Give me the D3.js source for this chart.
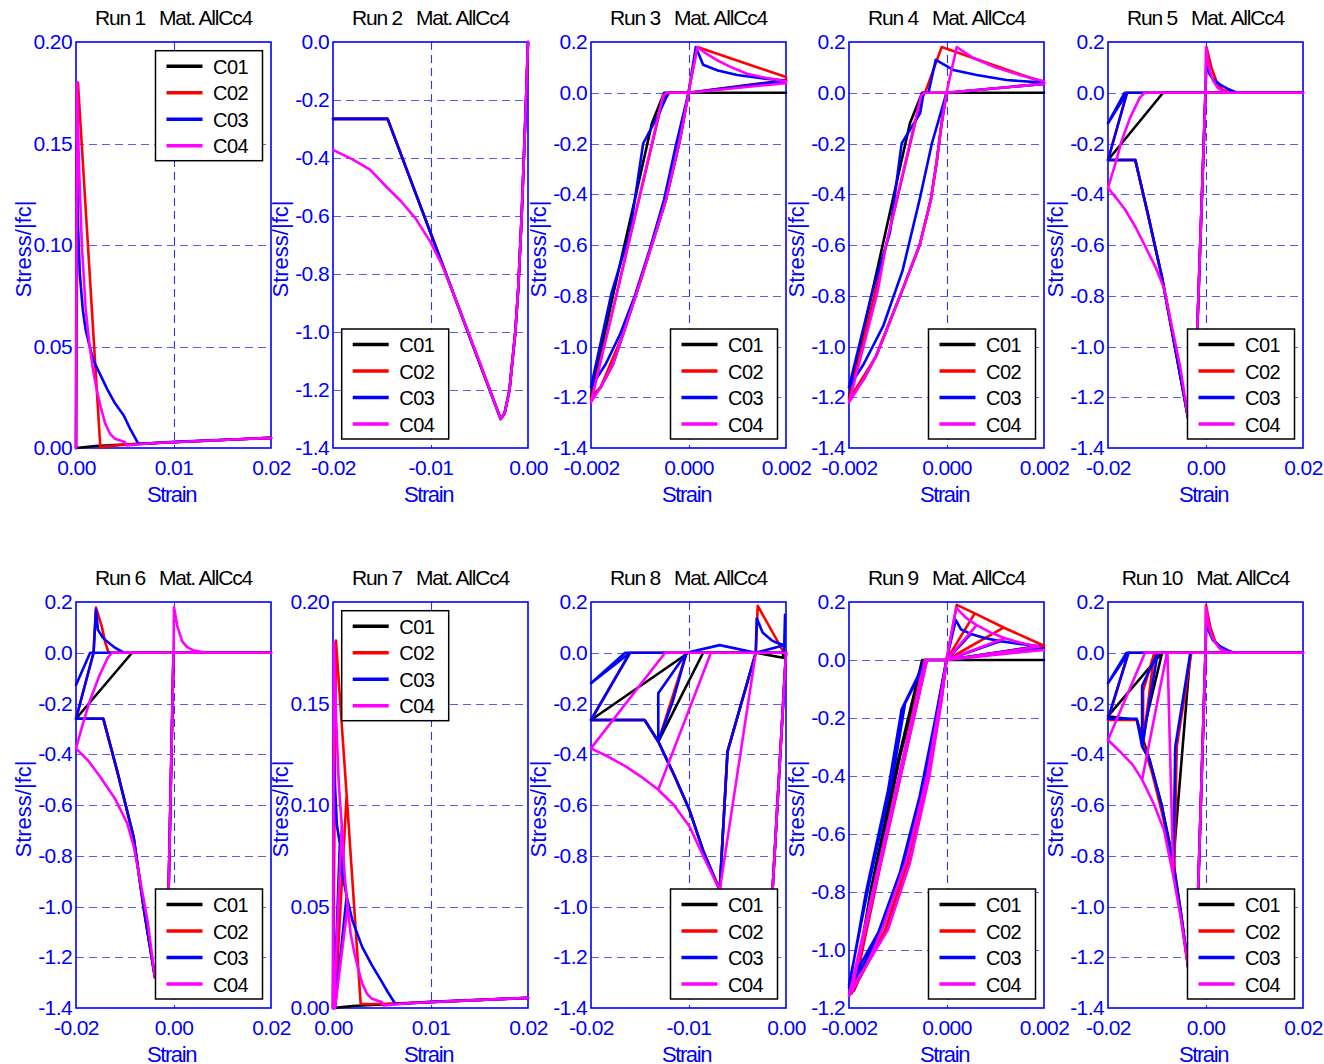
<!DOCTYPE html>
<html><head><meta charset="utf-8">
<script src="https://cdn.jsdelivr.net/npm/d3@7"></script>
<style>
body{margin:0;background:#fff;}
svg{display:block;}
text{font-family:"Liberation Sans",Arial,Helvetica,sans-serif;}
</style>
</head><body>
<svg id="chart" width="1324" height="1064"></svg>
<script>
// ---------------- configuration ----------------
const seriesNames = ["C01","C02","C03","C04"];
const seriesColors = ["#000000","#ff0000","#0000ff","#ff00ff"];
const runTitles = ["Run 1   Mat. AllCc4","Run 2   Mat. AllCc4","Run 3   Mat. AllCc4","Run 4   Mat. AllCc4","Run 5   Mat. AllCc4",
                   "Run 6   Mat. AllCc4","Run 7   Mat. AllCc4","Run 8   Mat. AllCc4","Run 9   Mat. AllCc4","Run 10   Mat. AllCc4"];
const xDomains = [[0,0.02],[-0.02,0],[-0.002,0.002],[-0.002,0.002],[-0.02,0.02],[-0.02,0.02],[0,0.02],[-0.02,0],[-0.002,0.002],[-0.02,0.02]];
const yDomains = [[0,0.2],[-1.4,0],[-1.4,0.2],[-1.4,0.2],[-1.4,0.2],[-1.4,0.2],[0,0.2],[-1.4,0.2],[-1.2,0.2],[-1.4,0.2]];
const xTicksPos = [0,0.01,0.02];
const xTicksNeg = [-0.02,-0.01,0];
const xTicksSmall = [-0.002,0,0.002];
const xTicksWide = [-0.02,0,0.02];
const yTicksSmall = [0,0.05,0.1,0.15,0.2];
const yTicksNeg = [-1.4,-1.2,-1.0,-0.8,-0.6,-0.4,-0.2,0];
const yTicksMix = [-1.4,-1.2,-1.0,-0.8,-0.6,-0.4,-0.2,0,0.2];
const yTicksMix9 = [-1.2,-1.0,-0.8,-0.6,-0.4,-0.2,0,0.2];
const xTickSets = [xTicksPos,xTicksNeg,xTicksSmall,xTicksSmall,xTicksWide,xTicksWide,xTicksPos,xTicksNeg,xTicksSmall,xTicksWide];
const yTickSets = [yTicksSmall,yTicksNeg,yTicksMix,yTicksMix,yTicksMix,yTicksMix,yTicksSmall,yTicksMix,yTicksMix9,yTicksMix];
const xFormats = [".2f",".2f",".3f",".3f",".2f",".2f",".2f",".2f",".3f",".2f"];
const yFormats = [".2f",".1f",".1f",".1f",".1f",".1f",".2f",".1f",".1f",".1f"];
const legendCorners = ["tr","bl","br","br","br","br","tl","br","br","br"];
const xLabel = "Strain";
const yLabel = "Stress/|fc|";

// ---------------- data (strain, stress/|fc|) ----------------
// Run 1
const r1c01 = [[0,0],[0.002,0.001],[0.006,0.002],[0.02,0.005]];
const r1c02 = [[0,0],[0.0002,0.18],[0.0025,0.0],[0.003,0.0008],[0.006,0.002],[0.02,0.005]];
const r1c03 = [[0,0],[0.00005,0.15],[0.0002,0.11],[0.0004,0.085],[0.0007,0.068],[0.001,0.058],[0.0014,0.05],[0.0018,0.043],[0.0025,0.036],[0.0032,0.029],[0.004,0.022],[0.0049,0.016],[0.0056,0.009],[0.0064,0.002],[0.01,0.003],[0.02,0.005]];
const r1c04 = [[0,0],[0.0001,0.18],[0.0003,0.14],[0.0006,0.10],[0.001,0.068],[0.0014,0.05],[0.0018,0.037],[0.0022,0.027],[0.0026,0.019],[0.003,0.012],[0.0035,0.007],[0.004,0.0045],[0.005,0.003],[0.0052,0.0012],[0.008,0.0025],[0.02,0.005]];
// Run 2
const r2c01 = [[0,0],[-0.0002,-0.2],[-0.00065,-0.6],[-0.001,-0.85],[-0.0013,-1.0],[-0.0019,-1.2],[-0.0024,-1.28],[-0.0028,-1.3],[-0.0144,-0.265],[-0.02,-0.265]];
const r2c02 = [[0,0],[-0.0002,-0.2],[-0.00065,-0.6],[-0.001,-0.85],[-0.0013,-1.0],[-0.0019,-1.2],[-0.0024,-1.28],[-0.0028,-1.3],[-0.0144,-0.265],[-0.02,-0.265]];
const r2c03 = [[0,0],[-0.0002,-0.2],[-0.00065,-0.6],[-0.001,-0.85],[-0.0013,-1.0],[-0.0019,-1.2],[-0.0024,-1.28],[-0.0028,-1.3],[-0.0144,-0.265],[-0.02,-0.265]];
const r2c04 = [[0,0],[-0.0002,-0.2],[-0.00065,-0.6],[-0.001,-0.85],[-0.0013,-1.0],[-0.0019,-1.2],[-0.0024,-1.28],[-0.0028,-1.3],[-0.005,-1.1],[-0.0075,-0.88],[-0.0088,-0.77],[-0.010,-0.69],[-0.0115,-0.61],[-0.013,-0.55],[-0.0145,-0.50],[-0.0162,-0.44],[-0.018,-0.405],[-0.02,-0.372]];
// Run 3
const r3c01 = [[0.002,0],[0,0],[-0.00018,-0.19],[-0.00046,-0.42],[-0.00067,-0.55],[-0.001,-0.75],[-0.00134,-0.95],[-0.00155,-1.07],[-0.0018,-1.16],[-0.002,-1.2],[-0.00154,-0.79],[-0.0011,-0.42],[-0.00075,-0.12],[-0.0005,0],[0,0],[0.002,0]];
const r3c02 = [[0,0],[0.00018,0.18],[0.002,0.062],[0.002,0.05],[0,0],[-0.00018,-0.19],[-0.00046,-0.42],[-0.001,-0.75],[-0.00134,-0.95],[-0.0018,-1.16],[-0.002,-1.21],[-0.00147,-0.79],[-0.00052,-0.02],[-0.0004,0],[0,0],[0.002,0.05]];
const r3c03 = [[0,0],[0.00015,0.18],[0.0003,0.11],[0.0006,0.088],[0.001,0.07],[0.0015,0.057],[0.002,0.048],[0,0],[-0.00025,-0.2],[-0.0005,-0.42],[-0.0008,-0.62],[-0.0011,-0.8],[-0.0014,-0.95],[-0.0017,-1.07],[-0.002,-1.16],[-0.00158,-0.79],[-0.0012,-0.55],[-0.00093,-0.2],[-0.0006,-0.08],[-0.00046,-0.02],[-0.0004,0],[0,0],[0.002,0.042]];
const r3c04 = [[0.002,0.038],[0,0],[-0.00018,-0.19],[-0.00046,-0.42],[-0.00067,-0.55],[-0.001,-0.75],[-0.00134,-0.95],[-0.00155,-1.07],[-0.0018,-1.16],[-0.002,-1.22],[-0.00147,-0.79],[-0.00124,-0.6],[-0.00085,-0.28],[-0.00052,-0.01],[-0.00045,0],[0,0],[0.00018,0.18],[0.0004,0.15],[0.0006,0.127],[0.00085,0.103],[0.0012,0.075],[0.0016,0.058],[0.002,0.045]];
// Run 4
const r4c01 = [[0.002,0],[0,0],[-0.0001,-0.12],[-0.0002,-0.27],[-0.00032,-0.42],[-0.00055,-0.6],[-0.00089,-0.77],[-0.0012,-0.92],[-0.00145,-1.04],[-0.0017,-1.13],[-0.002,-1.2],[-0.00153,-0.79],[-0.0011,-0.42],[-0.00075,-0.12],[-0.0005,0],[0,0],[0.002,0]];
const r4c02 = [[-0.00044,0],[-0.0001,0.18],[0.002,0.04],[0.002,0.035],[0,0],[-0.0001,-0.12],[-0.0002,-0.27],[-0.00032,-0.42],[-0.00055,-0.6],[-0.00089,-0.77],[-0.0012,-0.92],[-0.00145,-1.04],[-0.002,-1.21],[-0.00147,-0.79],[-0.00052,-0.02],[-0.00044,0]];
const r4c03 = [[0.002,0.035],[0,0],[-0.0003,-0.2],[-0.00055,-0.42],[-0.0009,-0.7],[-0.0013,-0.92],[-0.0017,-1.07],[-0.002,-1.16],[-0.00153,-0.79],[-0.00116,-0.55],[-0.00092,-0.2],[-0.00054,-0.08],[-0.00047,0],[-0.00037,0],[-0.00022,0.13],[0.00014,0.09],[0.00062,0.07],[0.00123,0.05],[0.002,0.04]];
const r4c04 = [[0.002,0.035],[0,0],[-0.00045,0],[-0.00052,-0.01],[-0.00085,-0.28],[-0.00124,-0.6],[-0.00142,-0.79],[-0.002,-1.22],[-0.0017,-1.13],[-0.00145,-1.04],[-0.0012,-0.92],[-0.00089,-0.77],[-0.00055,-0.6],[-0.00032,-0.42],[-0.0002,-0.27],[-0.0001,-0.12],[0,0],[0.00021,0.18],[0.00055,0.137],[0.001,0.1],[0.0015,0.07],[0.002,0.045]];
// Run 5
const r5c01 = [[0,0],[-0.0017,-0.94],[-0.0026,-1.2],[-0.0034,-1.3],[-0.006,-1.03],[-0.0089,-0.73],[-0.0118,-0.48],[-0.0144,-0.265],[-0.02,-0.265],[-0.0087,0],[0.02,0]];
const r5c02 = [[0,0],[0.0002,0.18],[0.0012,0.1],[0.0024,0.037],[0.0035,0.012],[0.005,0.002],[0.0065,0],[0,0],[-0.0017,-0.94],[-0.0026,-1.2],[-0.0034,-1.3],[-0.006,-1.03],[-0.0089,-0.73],[-0.0118,-0.48],[-0.0144,-0.265],[-0.02,-0.265],[-0.0161,0],[0.02,0]];
const r5c03 = [[0,0],[0.0002,0.12],[0.0008,0.075],[0.0015,0.055],[0.003,0.032],[0.0045,0.016],[0.0062,0.002],[0.0065,0],[0,0],[-0.0017,-0.94],[-0.0026,-1.2],[-0.0034,-1.3],[-0.006,-1.03],[-0.0089,-0.73],[-0.0118,-0.48],[-0.0144,-0.265],[-0.02,-0.265],[-0.0161,0],[-0.02,-0.12],[-0.0166,0],[0.02,0]];
const r5c04 = [[0,0],[0.0001,0.18],[0.0005,0.12],[0.001,0.08],[0.0015,0.05],[0.0025,0.02],[0.0035,0.006],[0.005,0.001],[0.0065,0],[0,0],[-0.0017,-0.94],[-0.0026,-1.2],[-0.0034,-1.3],[-0.0052,-1.08],[-0.0069,-0.92],[-0.0085,-0.77],[-0.0103,-0.685],[-0.0125,-0.6],[-0.0144,-0.528],[-0.0165,-0.46],[-0.0183,-0.415],[-0.02,-0.375],[-0.0185,-0.28],[-0.0172,-0.19],[-0.0155,-0.1],[-0.0135,-0.02],[-0.0125,0],[0.02,0]];
// Run 6
const r6c01 = [[0,0],[-0.001,-0.935],[-0.0025,-1.2],[-0.0038,-1.28],[-0.006,-1.02],[-0.0082,-0.725],[-0.0115,-0.47],[-0.0144,-0.26],[-0.02,-0.26],[-0.0085,0],[0.02,0]];
const r6c02 = [[0,0],[-0.001,-0.935],[-0.0025,-1.2],[-0.0038,-1.28],[-0.006,-1.02],[-0.0082,-0.725],[-0.0115,-0.47],[-0.0144,-0.26],[-0.02,-0.26],[-0.0164,0],[-0.0159,0.178],[-0.0147,0.103],[-0.014,0.04],[-0.0133,0],[0.02,0]];
const r6c03 = [[0,0],[-0.001,-0.935],[-0.0025,-1.2],[-0.0038,-1.28],[-0.006,-1.02],[-0.0082,-0.725],[-0.0115,-0.47],[-0.0144,-0.26],[-0.02,-0.26],[-0.0164,0],[-0.0159,0.17],[-0.0155,0.09],[-0.0145,0.06],[-0.0137,0.045],[-0.012,0.02],[-0.0102,0],[-0.0171,0],[-0.02,-0.127],[-0.0171,0],[0.02,0]];
const r6c04 = [[0,0],[0.0001,0.18],[0.0008,0.103],[0.0018,0.045],[0.0028,0.022],[0.004,0.01],[0.0056,0.004],[0.0072,0],[0,0],[-0.001,-0.935],[-0.0025,-1.2],[-0.0038,-1.28],[-0.0053,-1.06],[-0.0068,-0.9],[-0.0082,-0.76],[-0.0095,-0.672],[-0.012,-0.575],[-0.015,-0.49],[-0.0175,-0.425],[-0.02,-0.377],[-0.0186,-0.28],[-0.0171,-0.186],[-0.0152,-0.09],[-0.0135,-0.02],[-0.0126,0],[0.02,0]];
// Run 7
const r7c01 = [[0,0],[0.002,0.001],[0.006,0.002],[0.02,0.005]];
const r7c02 = [[0,0],[0.0003,0.181],[0.0014,0.105],[0.0002,0.0],[0.0014,0.105],[0.00284,0.002],[0.005,0.002],[0.02,0.005]];
const r7c03 = [[0,0],[0.00005,0.13],[0.0002,0.11],[0.0004,0.09],[0.0007,0.081],[0.0001,0.0],[0.0007,0.081],[0.001,0.065],[0.0014,0.055],[0.0002,0],[0.0014,0.055],[0.002,0.043],[0.003,0.03],[0.004,0.021],[0.005,0.013],[0.0056,0.008],[0.0064,0.002],[0.01,0.003],[0.02,0.005]];
const r7c04 = [[0,0],[0.0001,0.18],[0.0003,0.145],[0.0006,0.11],[0.0009,0.09],[0.0001,0],[0.0009,0.09],[0.0012,0.065],[0.0015,0.05],[0.0002,0],[0.0015,0.05],[0.0018,0.037],[0.0022,0.027],[0.0026,0.019],[0.003,0.012],[0.0035,0.007],[0.004,0.0045],[0.005,0.003],[0.0052,0.0012],[0.008,0.0025],[0.02,0.005]];
// Run 8
const r8c01 = [[0,0],[-0.0014,-0.95],[-0.0026,-1.2],[-0.0034,-1.3],[-0.005,-1.12],[-0.0068,-0.935],[-0.006,-0.39],[-0.0031,0],[-0.0003,0],[-0.0003,-0.02],[-0.0031,0],[-0.006,-0.39],[-0.0068,-0.935],[-0.0085,-0.78],[-0.0099,-0.62],[-0.0115,-0.48],[-0.0131,-0.35],[-0.0085,0],[-0.0131,-0.35],[-0.0145,-0.265],[-0.02,-0.265],[-0.0100,0],[0,0]];
const r8c02 = [[0,0],[-0.0014,-0.95],[-0.0026,-1.2],[-0.0034,-1.3],[-0.005,-1.12],[-0.0068,-0.935],[-0.006,-0.39],[-0.0031,0],[-0.0029,0.185],[-0.0005,0.02],[-0.0002,0],[-0.0031,0],[-0.006,-0.39],[-0.0068,-0.935],[-0.0085,-0.78],[-0.0099,-0.62],[-0.0115,-0.48],[-0.0131,-0.35],[-0.0102,0],[-0.0131,-0.35],[-0.0145,-0.265],[-0.02,-0.265],[-0.016,0],[0,0]];
const r8c03 = [[0,0],[-0.0014,-0.95],[-0.0026,-1.2],[-0.0034,-1.3],[-0.005,-1.12],[-0.0068,-0.935],[-0.006,-0.39],[-0.0031,0],[-0.003,0.136],[-0.0024,0.08],[-0.0015,0.05],[-0.001,0.04],[-0.0002,0.03],[-0.0031,0],[-0.006,-0.39],[-0.0068,-0.935],[-0.0085,-0.78],[-0.0099,-0.62],[-0.0115,-0.48],[-0.0131,-0.35],[-0.0131,-0.16],[-0.0102,0],[-0.0068,0.03],[-0.0031,0],[-0.0102,0],[-0.0116,-0.19],[-0.0131,-0.35],[-0.0145,-0.265],[-0.02,-0.265],[-0.016,0],[-0.02,-0.12],[-0.0165,0],[-0.0002,0],[-0.0001,0.15]];
const r8c04 = [[0,0],[-0.0014,-0.95],[-0.0026,-1.2],[-0.0034,-1.3],[-0.0052,-1.08],[-0.0068,-0.935],[-0.0031,0],[0,0],[-0.0031,0],[-0.0068,-0.935],[-0.0085,-0.8],[-0.0099,-0.685],[-0.0115,-0.6],[-0.0131,-0.54],[-0.0077,0],[-0.0131,-0.54],[-0.0148,-0.49],[-0.0164,-0.449],[-0.0182,-0.41],[-0.02,-0.377],[-0.0124,0],[0,0]];
// Run 9
const r9c01 = [[0.002,0],[0,0],[-0.00015,-0.14],[-0.00042,-0.4],[-0.00085,-0.69],[-0.0013,-0.91],[-0.0019,-1.14],[-0.00155,-0.79],[-0.001,-0.35],[-0.0005,0],[0,0],[-0.0001,-0.13],[-0.00037,-0.4],[-0.0008,-0.7],[-0.00125,-0.93],[-0.00195,-1.15],[-0.0015,-0.78],[-0.00095,-0.33],[-0.00045,0],[0,0],[0.002,0]];
const r9c02 = [[0,0],[0.00021,0.19],[0.00058,0.161],[0,0],[0.00058,0.161],[0.00117,0.112],[0,0],[0.00117,0.112],[0.0019,0.057],[0.002,0.05],[0,0],[-0.00015,-0.14],[-0.00042,-0.4],[-0.00085,-0.69],[-0.0013,-0.91],[-0.0019,-1.14],[-0.00046,0],[0,0],[-0.0001,-0.13],[-0.00037,-0.4],[-0.0008,-0.7],[-0.00125,-0.93],[-0.00195,-1.15],[-0.0004,0],[0,0],[0.002,0.045]];
const r9c03 = [[0,0],[0.00019,0.138],[0.0003,0.105],[0.0005,0.09],[0,0],[0.0005,0.09],[0.0008,0.075],[0.0011,0.065],[0,0],[0.0011,0.065],[0.0015,0.055],[0.0019,0.048],[0,0],[-0.0002,-0.2],[-0.0005,-0.45],[-0.0009,-0.72],[-0.0013,-0.92],[-0.0017,-1.05],[-0.002,-1.13],[-0.00165,-0.8],[-0.0012,-0.45],[-0.00092,-0.17],[-0.0006,-0.06],[-0.00045,0],[0,0],[-0.00025,-0.22],[-0.00055,-0.47],[-0.00095,-0.73],[-0.0014,-0.94],[-0.002,-1.12],[-0.0016,-0.78],[-0.0011,-0.4],[-0.00085,-0.15],[-0.0004,0],[0,0],[0.002,0.04]];
const r9c04 = [[0,0],[0.0002,0.18],[0.0004,0.145],[0.00062,0.12],[0,0],[0.00062,0.12],[0.0009,0.095],[0.0012,0.075],[0,0],[0.0012,0.075],[0.0015,0.06],[0.0019,0.046],[0,0],[-0.00013,-0.138],[-0.0004,-0.4],[-0.00082,-0.69],[-0.0013,-0.92],[-0.0016,-1.04],[-0.002,-1.16],[-0.00044,0],[0,0],[-0.0001,-0.14],[-0.00035,-0.4],[-0.00075,-0.7],[-0.0012,-0.93],[-0.00195,-1.14],[-0.0004,0],[0,0],[0.002,0.035]];
// Run 10
const r10c01 = [[0,0],[-0.0015,-0.93],[-0.0026,-1.18],[-0.0034,-1.26],[-0.005,-1.03],[-0.0066,-0.82],[-0.0031,0],[-0.0066,-0.82],[-0.009,-0.6],[-0.0115,-0.42],[-0.013,-0.33],[-0.0089,0],[-0.013,-0.33],[-0.0141,-0.265],[-0.02,-0.25],[-0.0089,0],[0.02,0]];
const r10c02 = [[0,0],[0.0001,0.188],[0.001,0.1],[0.002,0.045],[0.003,0.02],[0.0045,0.005],[0.0058,0],[0,0],[-0.0015,-0.93],[-0.0026,-1.18],[-0.0034,-1.26],[-0.005,-1.05],[-0.0064,-0.86],[-0.0059,-0.37],[-0.0029,0],[-0.0059,-0.37],[-0.0064,-0.86],[-0.0088,-0.64],[-0.011,-0.47],[-0.0128,-0.36],[-0.0128,-0.15],[-0.0105,0],[-0.0128,-0.36],[-0.0141,-0.265],[-0.02,-0.265],[-0.0158,0],[0.02,0]];
const r10c03 = [[0,0],[0.0002,0.12],[0.0008,0.08],[0.0015,0.05],[0.003,0.025],[0.0045,0.01],[0.0058,0],[0,0],[-0.0015,-0.93],[-0.0026,-1.18],[-0.0034,-1.26],[-0.005,-1.03],[-0.0066,-0.84],[-0.0062,-0.37],[-0.0031,0],[-0.0062,-0.37],[-0.0066,-0.84],[-0.009,-0.6],[-0.0115,-0.42],[-0.013,-0.37],[-0.013,-0.13],[-0.0103,-0.02],[-0.0098,0],[-0.013,-0.37],[-0.0141,-0.26],[-0.02,-0.26],[-0.0158,0],[-0.02,-0.12],[-0.0162,0],[0.02,0]];
const r10c04 = [[0,0],[0.0001,0.18],[0.0006,0.11],[0.0012,0.07],[0.002,0.04],[0.003,0.015],[0.0045,0.003],[0.0058,0],[0,0],[-0.0015,-0.93],[-0.0026,-1.18],[-0.0034,-1.26],[-0.005,-1.05],[-0.0066,-0.88],[-0.0078,0],[-0.0066,-0.88],[-0.0085,-0.7],[-0.0105,-0.6],[-0.013,-0.5],[-0.0079,0],[-0.013,-0.5],[-0.015,-0.44],[-0.0175,-0.39],[-0.02,-0.344],[-0.0124,0],[0.02,0]];

const runData = [
  [r1c01,r1c02,r1c03,r1c04],[r2c01,r2c02,r2c03,r2c04],[r3c01,r3c02,r3c03,r3c04],[r4c01,r4c02,r4c03,r4c04],[r5c01,r5c02,r5c03,r5c04],
  [r6c01,r6c02,r6c03,r6c04],[r7c01,r7c02,r7c03,r7c04],[r8c01,r8c02,r8c03,r8c04],[r9c01,r9c02,r9c03,r9c04],[r10c01,r10c02,r10c03,r10c04]
];

// ---------------- drawing ----------------
const W = 195, H = 406;
const colX = [76,333,591,849,1108];
const rowY = [42,602];
const FRAME = "#0000ff", GRIDH = "#5a5aff", GRIDV = "#3030ff";
const loc = d3.formatLocale({decimal:".",thousands:",",grouping:[3],currency:["",""],minus:"-"});
const svg = d3.select("#chart");
const defs = svg.append("defs");

runData.forEach((series, i) => {
  const col = i % 5, row = Math.floor(i / 5);
  const left = colX[col], top = rowY[row];
  const x = d3.scaleLinear().domain(xDomains[i]).range([left, left + W]);
  const y = d3.scaleLinear().domain(yDomains[i]).range([top + H, top]);
  const g = svg.append("g");

  defs.append("clipPath").attr("id", "clip" + i).append("rect")
    .attr("x", left - 2).attr("y", top - 2).attr("width", W + 4).attr("height", H + 4);

  // grid
  const xt = xTickSets[i], yt = yTickSets[i];
  g.selectAll("line.gx").data(xt.filter(v => v > xDomains[i][0] && v < xDomains[i][1])).join("line")
    .attr("x1", d => Math.round(x(d)) + 0.5).attr("x2", d => Math.round(x(d)) + 0.5).attr("y1", top).attr("y2", top + H)
    .attr("stroke", GRIDV).attr("stroke-width", 1.1).attr("stroke-dasharray", "8,5");
  g.selectAll("line.gy").data(yt.filter(v => v > yDomains[i][0] + 1e-9 && v < yDomains[i][1] - 1e-9)).join("line")
    .attr("x1", left).attr("x2", left + W).attr("y1", d => Math.round(y(d)) + 0.5).attr("y2", d => Math.round(y(d)) + 0.5)
    .attr("stroke", GRIDH).attr("stroke-width", 1.2).attr("stroke-dasharray", "8,5");

  // frame
  g.append("rect").attr("x", left).attr("y", top).attr("width", W).attr("height", H)
    .attr("fill", "none").attr("stroke", FRAME).attr("stroke-width", 1.6);

  // axes (labels only)
  const xf = loc.format(xFormats[i]), yf = loc.format(yFormats[i]);
  const ax = g.append("g").attr("transform", `translate(0,${top + H})`)
    .call(d3.axisBottom(x).tickValues(xt).tickFormat(xf).tickSize(0).tickPadding(12));
  const ay = g.append("g").attr("transform", `translate(${left},0)`)
    .call(d3.axisLeft(y).tickValues(yt).tickFormat(yf).tickSize(0).tickPadding(4));
  [ax, ay].forEach(a => {
    a.select(".domain").remove();
    a.selectAll("text").attr("fill", FRAME).style("font-size", "21px")
      .style("letter-spacing", "-0.6px").style("font-family", '"Liberation Sans",Arial,sans-serif');
  });

  // data lines
  const line = d3.line().x(d => x(d[0])).y(d => y(d[1]));
  const lg = g.append("g").attr("clip-path", `url(#clip${i})`);
  series.forEach((pts, k) => {
    lg.append("path").attr("d", line(pts)).attr("fill", "none")
      .attr("stroke", seriesColors[k]).attr("stroke-width", 2.6)
      .attr("stroke-linejoin", "round").attr("stroke-linecap", "round");
  });

  // titles & labels
  g.append("text").attr("x", left + W / 2).attr("y", top - 17).attr("text-anchor", "middle")
    .style("font-size", "21px").style("letter-spacing", "-1.2px").style("white-space", "pre")
    .attr("fill", "#000").text(runTitles[i]);
  g.append("text").attr("x", left + W / 2 - 2).attr("y", top + H + 54).attr("text-anchor", "middle")
    .style("font-size", "22px").style("letter-spacing", "-1.4px").attr("fill", FRAME).text(xLabel);
  g.append("text").attr("transform", `translate(${left - 45},${top + H / 2 + 4}) rotate(-90)`)
    .attr("text-anchor", "middle").style("font-size", "22px").attr("fill", FRAME).text(yLabel);

  // legend
  const LW = 107, LH = 110;
  const corner = legendCorners[i];
  const lx = corner[1] === "r" ? left + W - 8.5 - LW : left + 8.7;
  const ly = corner[0] === "t" ? top + 8.7 : top + H - 9 - LH;
  const leg = g.append("g").attr("transform", `translate(${lx},${ly})`);
  leg.append("rect").attr("width", LW).attr("height", LH).attr("fill", "#fff")
    .attr("stroke", "#000").attr("stroke-width", 1.5);
  seriesNames.forEach((n, k) => {
    const ry = 15.5 + k * 26.5;
    leg.append("line").attr("x1", 11).attr("x2", 47).attr("y1", ry).attr("y2", ry)
      .attr("stroke", seriesColors[k]).attr("stroke-width", 3.6);
    leg.append("text").attr("x", 57.5).attr("y", ry + 7.5).style("font-size", "20px")
      .style("letter-spacing", "-0.5px").attr("fill", "#000").text(n);
  });
});
</script>
</body></html>
